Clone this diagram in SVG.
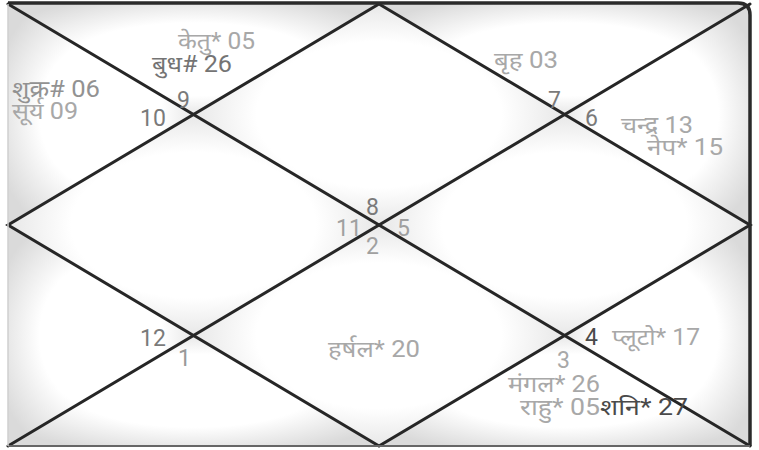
<svg xmlns="http://www.w3.org/2000/svg" width="759" height="450" viewBox="0 0 759 450">
<defs>
<radialGradient id="g" cx="0.5" cy="0.5" r="0.6">
<stop offset="0.55" stop-color="#ffffff"/>
<stop offset="1" stop-color="#dadada"/>
</radialGradient>
<style>
.r{fill:url(#g);stroke:none}
.ln{stroke:#262626;stroke-width:3;fill:none;stroke-linecap:round}
text{font-family:Roboto,"Noto Sans","Noto Sans Devanagari",sans-serif;font-size:23px}
.p{fill:#a8a8a8}
.d{fill:#747474}
.n{fill:#7a7a7a}
.k{fill:#4a4a4a}
</style>
</defs>
<rect x="0" y="0" width="759" height="450" fill="#ffffff"/>
<g id="regions">
<polygon class="r" points="379,4 564.5,114.5 379,225 193.5,114.5"/>
<polygon class="r" points="8,4 379,4 193.5,114.5"/>
<polygon class="r" points="8,4 193.5,114.5 8,225"/>
<polygon class="r" points="8,225 193.5,114.5 379,225 193.5,335.5"/>
<polygon class="r" points="8,225 193.5,335.5 8,446"/>
<polygon class="r" points="8,446 193.5,335.5 379,446"/>
<polygon class="r" points="379,225 564.5,335.5 379,446 193.5,335.5"/>
<polygon class="r" points="379,446 564.5,335.5 750,446"/>
<polygon class="r" points="750,446 564.5,335.5 750,225"/>
<polygon class="r" points="750,225 564.5,114.5 379,225 564.5,335.5"/>
<polygon class="r" points="750,4 750,225 564.5,114.5"/>
<polygon class="r" points="379,4 750,4 564.5,114.5"/>
</g>
<g id="connectors">
<line class="ln" x1="8" y1="4" x2="750" y2="446"/>
<line class="ln" x1="750" y1="4" x2="8" y2="446"/>
<polygon class="ln" points="379,4 750,225 379,446 8,225"/>
<path d="M8,3 H738 Q750,3 750,15 V446" stroke="#2a2a2a" stroke-width="3.5" fill="none"/>
<line x1="8" y1="446" x2="750" y2="446" stroke="#666" stroke-width="2"/>
<line x1="8" y1="4" x2="8" y2="446" stroke="#cfcfcf" stroke-width="1.5"/>
</g>
<g id="house-top-left">
<text class="p" x="178" y="49" textLength="77" lengthAdjust="spacingAndGlyphs">केतु* 05</text>
<text class="d" x="152" y="72" textLength="80" lengthAdjust="spacingAndGlyphs">बुध# 26</text>
<text class="n" x="177" y="108">9</text>
</g>
<g id="house-left-top">
<text class="n" x="12" y="97" style="fill:#929292" textLength="88" lengthAdjust="spacingAndGlyphs">शुक्र# 06</text>
<text class="p" x="12" y="119" textLength="66" lengthAdjust="spacingAndGlyphs">सूर्य 09</text>
<text class="n" x="140" y="126">10</text>
</g>
<g id="house-top-right">
<text class="p" x="494" y="68" textLength="64" lengthAdjust="spacingAndGlyphs">बृह 03</text>
<text class="n" x="548" y="108">7</text>
</g>
<g id="house-right-top">
<text class="n" x="585" y="126">6</text>
<text class="p" x="621" y="133" textLength="72" lengthAdjust="spacingAndGlyphs">चन्द्र 13</text>
<text class="p" x="647" y="155" textLength="76" lengthAdjust="spacingAndGlyphs">नेप* 15</text>
</g>
<g id="house-center">
<text class="n" x="366" y="215">8</text>
<text class="n" x="336" y="236" style="fill:#a0a0a0">11</text>
<text class="n" x="397" y="236" style="fill:#a0a0a0">5</text>
<text class="n" x="366" y="254" style="fill:#a0a0a0">2</text>
</g>
<g id="house-bottom-left">
<text class="n" x="140" y="346">12</text>
<text class="n" x="178" y="366" style="fill:#999">1</text>
</g>
<g id="house-bottom">
<text class="p" x="328" y="357" textLength="92" lengthAdjust="spacingAndGlyphs">हर्षल* 20</text>
</g>
<g id="house-right-bottom">
<text class="k" x="585" y="345">4</text>
<text class="p" x="612" y="345" textLength="88" lengthAdjust="spacingAndGlyphs">प्लूटो* 17</text>
</g>
<g id="house-bottom-right">
<text class="p" x="557" y="368">3</text>
<text class="p" x="508" y="392" textLength="92" lengthAdjust="spacingAndGlyphs">मंगल* 26</text>
<text class="p" x="520" y="415" textLength="168" lengthAdjust="spacingAndGlyphs">राहु* 05<tspan class="k">शनि* 27</tspan></text>
</g>
</svg>
